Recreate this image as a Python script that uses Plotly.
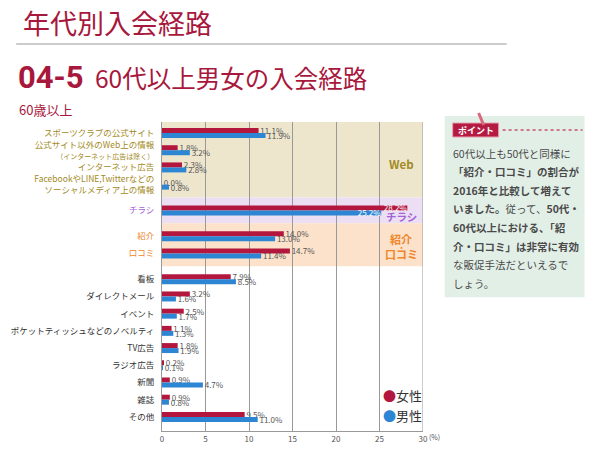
import plotly.graph_objects as go

# ---------------- data ----------------
categories = [
    "スポーツクラブの公式サイト",
    "公式サイト以外のWeb上の情報<br><span style='font-size:7px'>（インターネット広告は除く）</span>",
    "インターネット広告",
    "FacebookやLINE,Twitterなどの<br>ソーシャルメディア上の情報",
    "チラシ",
    "紹介",
    "口コミ",
    "看板",
    "ダイレクトメール",
    "イベント",
    "ポケットティッシュなどのノベルティ",
    "TV広告",
    "ラジオ広告",
    "新聞",
    "雑誌",
    "その他",
]
group_of = [0, 0, 0, 0, 1, 2, 2, 3, 3, 3, 3, 3, 3, 3, 3, 3]
female = [11.1, 1.8, 2.3, 0.0, 28.2, 14.0, 14.7, 7.9, 3.2, 2.5, 1.1, 1.8, 0.2, 0.9, 0.9, 9.5]
male = [11.9, 3.2, 2.8, 0.8, 25.2, 13.0, 11.4, 8.5, 1.6, 1.7, 1.3, 1.9, 0.1, 4.7, 0.8, 11.0]
x_ticks = [0, 5, 10, 15, 20, 25, 30]

# ---------------- styles ----------------
RED = "#b3173e"
BLUE = "#2d86d4"
CRIMSON = "#a8173c"
FONT = "Noto Sans CJK JP"
group_label_colors = ["#a38a25", "#a462d4", "#ef8429", "#333333"]
band_colors = ["#ede6cd", "#ecdff4", "#fce2cb", None]

# y positions: rows with an extra half-row gap between groups
ypos = [i + 0.5 * g for i, g in enumerate(group_of)]

ticktext = [f"<span style='color:{group_label_colors[g]}'>{c}</span>" for c, g in zip(categories, group_of)]

BW = 0.29

def tpos(vals):
    return ["inside" if v > 20 else "outside" for v in vals]

def tlabels(vals):
    return [f"{v:.1f}%" if v > 20 else f"\u00a0{v:.1f}%" for v in vals]

fig = go.Figure()
for vals, col, name, off in [(female, RED, "女性", -BW), (male, BLUE, "男性", 0)]:
    fig.add_trace(go.Bar(
        y=ypos, x=vals, orientation="h", name=name,
        marker=dict(color=col, line=dict(width=0)), width=BW, offset=off,
        text=tlabels(vals), textposition=tpos(vals),
        insidetextanchor="end", constraintext="none",
        textfont=dict(size=8, family=FONT),
        outsidetextfont=dict(size=8, color="#555555", family=FONT),
        insidetextfont=dict(size=8, color="#ffffff", family=FONT),
        cliponaxis=False,
    ))

# ---------------- bands ----------------
shapes = []
annotations = []
n_groups = max(group_of) + 1
for g in range(n_groups):
    idx = [i for i, gg in enumerate(group_of) if gg == g]
    if band_colors[g] is None:
        continue
    top = ypos[idx[0]] - (0.64 if g == 0 else 0.75)
    bot = ypos[idx[-1]] + 0.75
    shapes.append(dict(type="rect", xref="x", yref="y", x0=0, x1=30, y0=top, y1=bot,
                       fillcolor=band_colors[g], line=dict(width=0), layer="below"))

web_idx = [i for i, gg in enumerate(group_of) if gg == 0]
chi_idx = [i for i, gg in enumerate(group_of) if gg == 1]
sk_idx = [i for i, gg in enumerate(group_of) if gg == 2]

def data_ann(x, y, text, size, color):
    annotations.append(dict(x=x, y=y, xref="x", yref="y", xanchor="center", yanchor="middle",
                            text=text, showarrow=False, font=dict(size=size, color=color, family=FONT)))

data_ann(27.5, (ypos[web_idx[0]] + ypos[web_idx[-1]]) / 2 + 0.3, "<b>Web</b>", 11.5, group_label_colors[0])
data_ann(27.5, ypos[chi_idx[0]] + 0.33, "<b>チラシ</b>", 10.5, group_label_colors[1])
data_ann(27.5, ypos[sk_idx[0]] + 0.16, "<b>紹介</b>", 11, group_label_colors[2])
data_ann(27.5, ypos[sk_idx[0]] + 0.6, "<b>・</b>", 7, group_label_colors[2])
data_ann(27.5, ypos[sk_idx[-1]] + 0.02, "<b>口コミ</b>", 11, group_label_colors[2])

# right edge line at 30
shapes.append(dict(type="line", xref="x", yref="paper", x0=30, x1=30, y0=0, y1=1,
                   line=dict(color="#999999", width=1)))

# ---------------- layout helpers (page pixel -> paper) ----------------
OFF = 8  # page body margin
L, R, T, B = 162 - OFF, 423.3 - OFF, 122 - OFF, 430.7 - OFF
def px(x):
    return (x - OFF - L) / (R - L)
def py(y):
    return (B - (y - OFF)) / (B - T)

def page_ann(x, y, text, size, color, family=FONT, xanchor="left"):
    annotations.append(dict(x=px(x), y=py(y), xref="paper", yref="paper", xanchor=xanchor, yanchor="middle",
                            text=text, showarrow=False, font=dict(size=size, color=color, family=family)))

page_ann(427, 437, "(%)", 7, "#555555")

# legend
page_ann(381, 395, f"<span style='color:{RED}'>●</span>女性", 13, "#333333")
page_ann(381, 415, f"<span style='color:{BLUE}'>●</span>男性", 13, "#333333")

# headers
page_ann(21, 23, "年代別入会経路", 27, CRIMSON)
shapes.append(dict(type="line", xref="paper", yref="paper", x0=px(16), x1=px(507), y0=py(44), y1=py(44),
                   line=dict(color="#bbbbbb", width=1.5)))
page_ann(16, 78, "<b>04-5</b>", 31, CRIMSON, family="Roboto")
page_ann(93, 78, "60代以上男女の入会経路", 24.5, CRIMSON)
page_ann(17, 110, "60歳以上", 13, CRIMSON)

# point box
shapes.append(dict(type="rect", xref="paper", yref="paper", x0=px(445), x1=px(585), y0=py(116), y1=py(297),
                   fillcolor="#e2efe7", line=dict(width=0), layer="below"))
shapes.append(dict(type="rect", xref="paper", yref="paper", x0=px(453), x1=px(499), y0=py(123), y1=py(137),
                   fillcolor="#b51a41", line=dict(color="#e8a0b0", width=1)))
shapes.append(dict(type="line", xref="paper", yref="paper", x0=px(479), x1=px(484), y0=py(113), y1=py(125),
                   line=dict(color="#d9677f", width=3)))
page_ann(476, 130, "<b>ポイント</b>", 9, "#ffffff", xanchor="center")
shapes.append(dict(type="line", xref="paper", yref="paper", x0=px(503), x1=px(583), y0=py(130), y1=py(130),
                   line=dict(color="#c8506a", width=1.5, dash="dot")))

point_lines = [
    "60代以上も50代と同様に",
    "<b>「紹介・口コミ」の割合が</b>",
    "<b>2016年と比較して増えて</b>",
    "<b>いました。</b>従って、<b>50代・</b>",
    "<b>60代以上における、「紹</b>",
    "<b>介・口コミ」は非常に有効</b>",
    "な販促手法だといえるで",
    "しょう。",
]
for k, line in enumerate(point_lines):
    page_ann(451, 153 + 18.6 * k, line, 10.5, "#4a4a4a")

fig.update_layout(
    width=600, height=449,
    margin=dict(l=L, r=600 - R, t=T, b=449 - B, autoexpand=False),
    paper_bgcolor="#ffffff", plot_bgcolor="#ffffff",
    showlegend=False,
    barmode="overlay",
    shapes=shapes, annotations=annotations,
    font=dict(family=FONT),
    xaxis=dict(range=[0, 30], tickvals=x_ticks, ticktext=[str(v) for v in x_ticks],
               showgrid=True, gridcolor="#999999", gridwidth=1, zeroline=False,
               showline=True, linecolor="#999999", linewidth=1, automargin=False,
               tickfont=dict(size=8, color="#555555", family=FONT), ticks="", fixedrange=True),
    yaxis=dict(range=[17.32, -0.64], tickvals=ypos, ticktext=ticktext,
               showgrid=False, zeroline=False, showline=True, linecolor="#999999", linewidth=1,
               automargin=False,
               tickfont=dict(size=8.5, color="#333333", family=FONT), ticks="",
               ticklabelstandoff=5),
)

fig.write_html("out.html")
